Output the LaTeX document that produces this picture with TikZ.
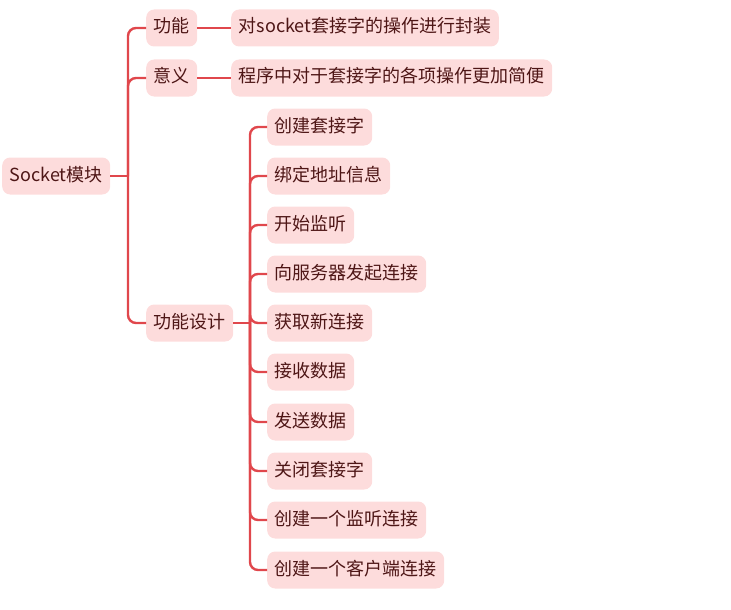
\documentclass[tikz,border=0pt]{standalone}
\usepackage{fontspec}
\newfontfamily\cjk{Noto Sans CJK SC}
\definecolor{boxfill}{HTML}{FDDCDC}
\definecolor{linered}{HTML}{E0474C}
\definecolor{txt}{HTML}{4E1616}
\tikzset{
  topic/.style={fill=boxfill, text=txt, rounded corners=8pt, anchor=west,
    font=\cjk\fontsize{18}{20}\selectfont, inner xsep=7.5pt, inner ysep=0pt,
    minimum height=37pt, text height=13.5pt, text depth=3.5pt},
  link/.style={draw=linered, line width=2.4pt, rounded corners=8pt}
}
\begin{document}
\begin{tikzpicture}[x=1pt,y=-1pt]
\useasboundingbox (0,0) rectangle (731,610);
\node[topic] (root) at (2,176) {Socket模块};
\node[topic] (gn) at (146,28) {功能};
\node[topic] (yy) at (146,78) {意义};
\node[topic] (sj) at (146,323) {功能设计};
\node[topic] (gnd) at (231,28) {对socket套接字的操作进行封装};
\node[topic] (yyd) at (231,78) {程序中对于套接字的各项操作更加简便};
\node[topic] (c1) at (267,127) {创建套接字};
\node[topic] (c2) at (267,176) {绑定地址信息};
\node[topic] (c3) at (267,225) {开始监听};
\node[topic] (c4) at (267,274) {向服务器发起连接};
\node[topic] (c5) at (267,323) {获取新连接};
\node[topic] (c6) at (267,372) {接收数据};
\node[topic] (c7) at (267,422) {发送数据};
\node[topic] (c8) at (267,471) {关闭套接字};
\node[topic] (c9) at (267,520) {创建一个监听连接};
\node[topic] (c10) at (267,570) {创建一个客户端连接};
\coordinate (t1) at (128,176);
\coordinate (t2) at (250,323);
\draw[link] (root.east) -- (t1);
\foreach \n in {gn,yy,sj}{
  \draw[link] (t1) |- (\n.west);
}
\draw[link] (gn.east) -- (gnd.west);
\draw[link] (yy.east) -- (yyd.west);
\draw[link] (sj.east) -- (t2);
\foreach \n in {c1,c2,c3,c4,c5,c6,c7,c8,c9,c10}{
  \draw[link] (t2) |- (\n.west);
}
\end{tikzpicture}
\end{document}
